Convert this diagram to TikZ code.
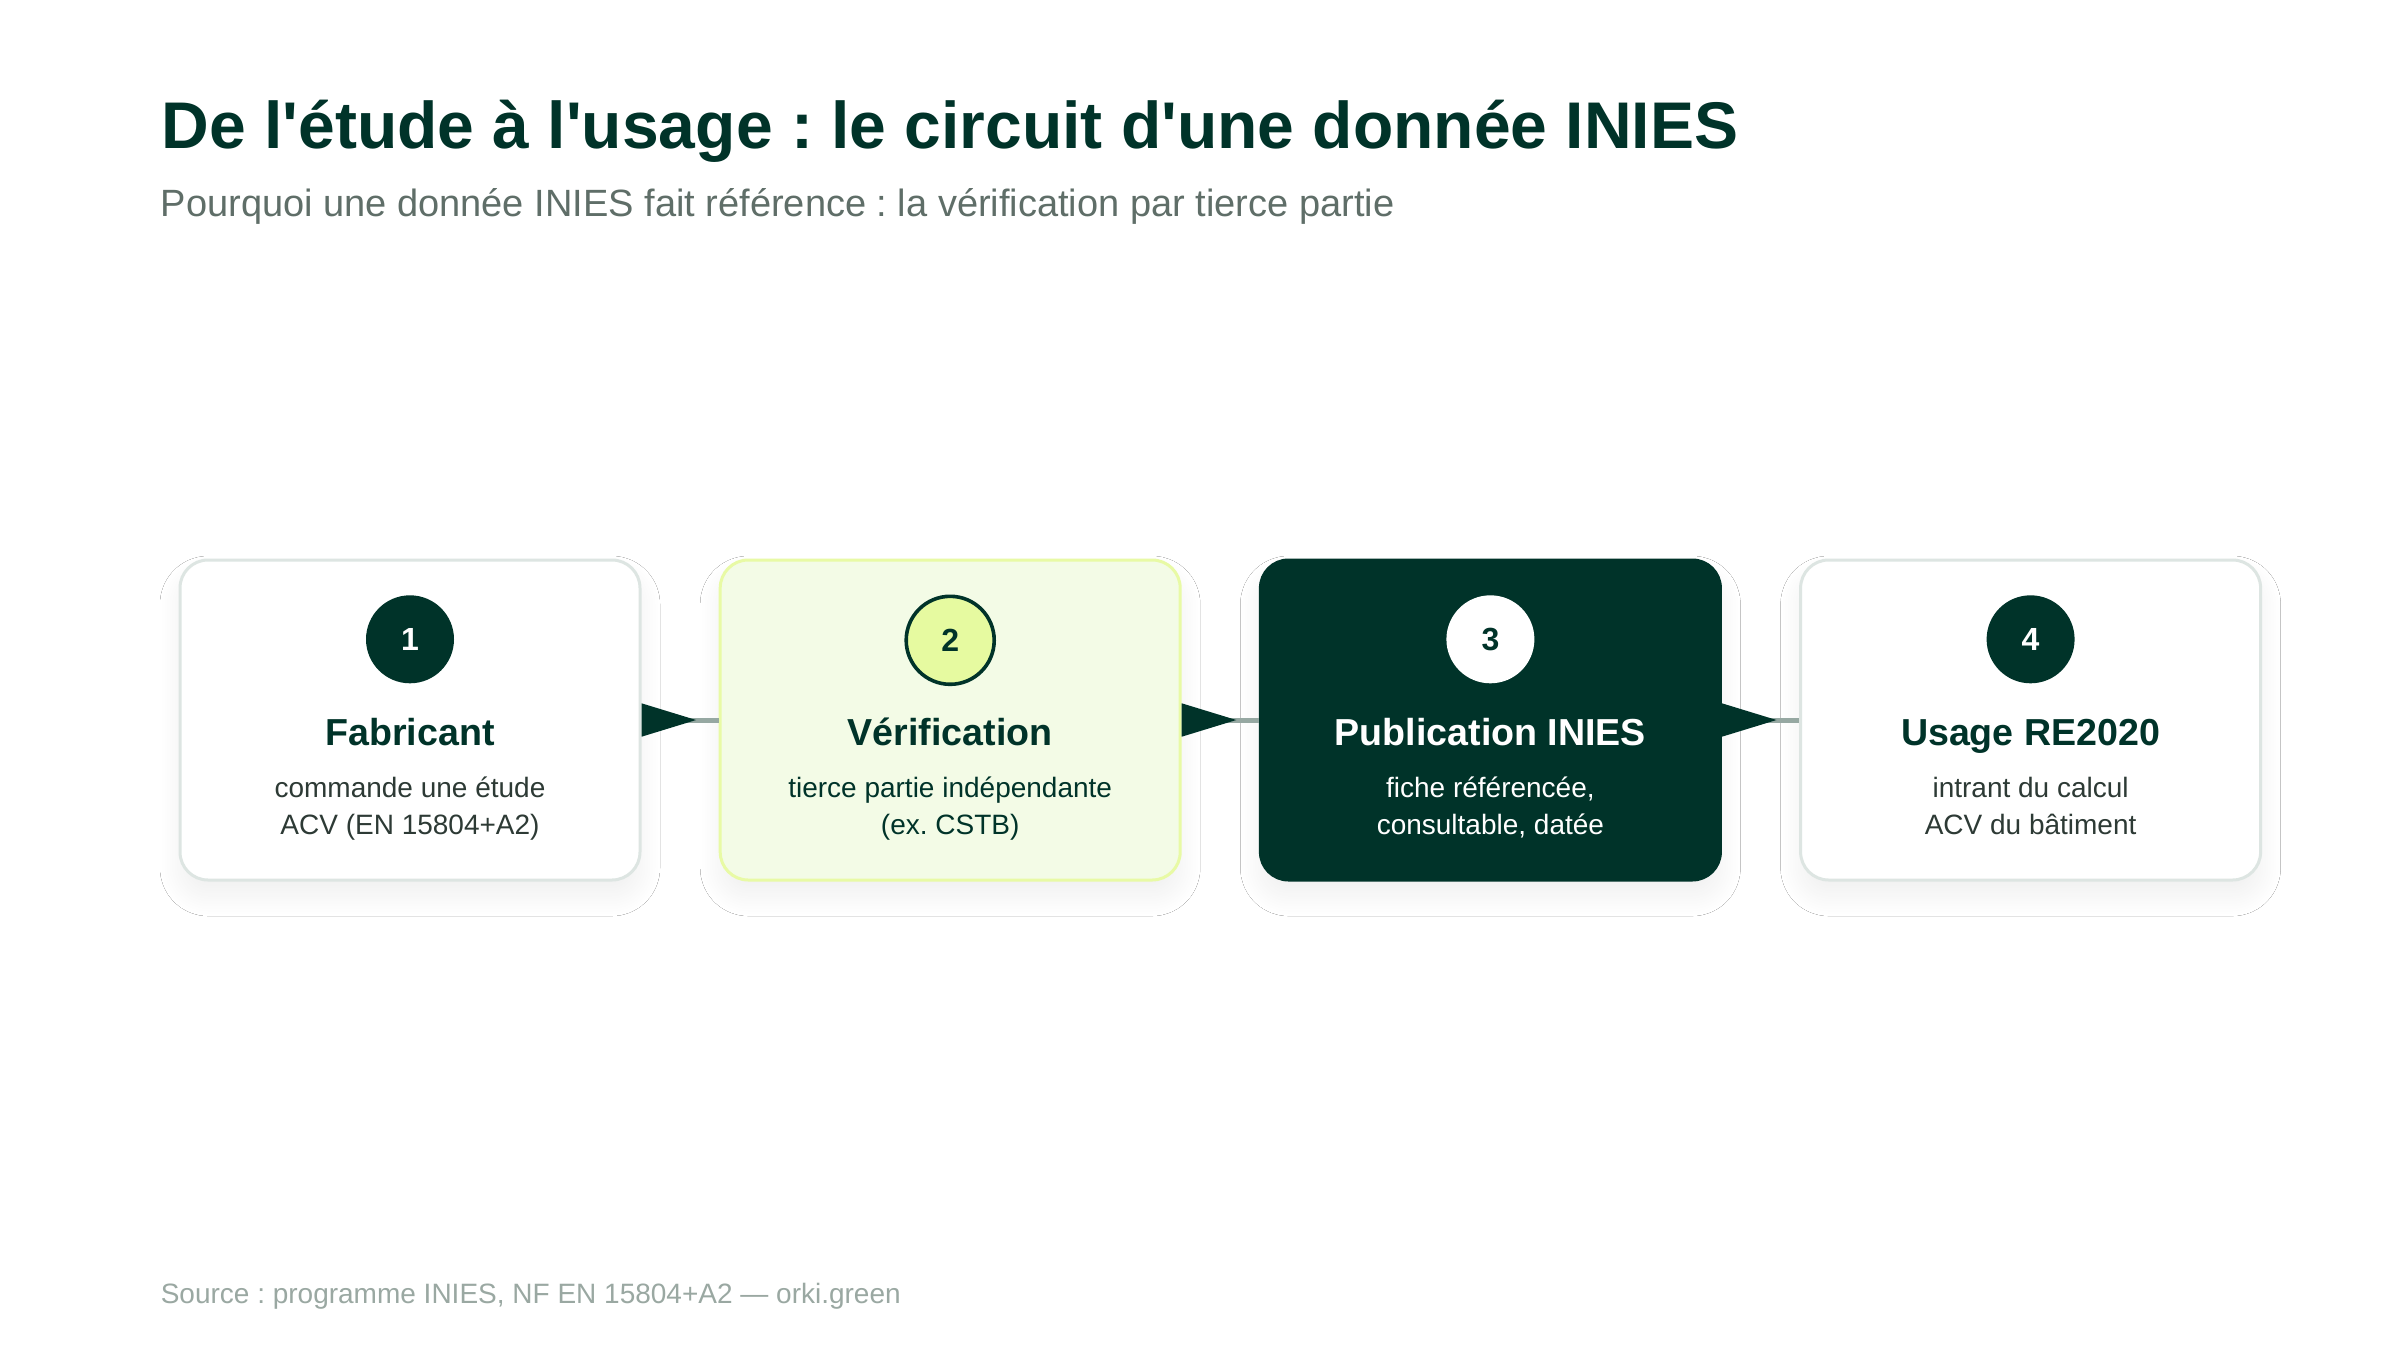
\documentclass[tikz,border=0pt]{standalone}
\usepackage{fontspec}
\setmainfont{Liberation Sans}
\usetikzlibrary{positioning,arrows.meta,shadows.blur}
\definecolor{ink}{RGB}{0,51,41}
\definecolor{subgray}{RGB}{95,110,104}
\definecolor{footgray}{RGB}{154,168,162}
\definecolor{edge}{RGB}{221,229,226}
\definecolor{lime}{RGB}{230,250,160}
\definecolor{limebg}{RGB}{243,251,230}
\definecolor{limeedge}{RGB}{232,250,165}
\definecolor{txt}{RGB}{45,58,53}
\definecolor{wire}{RGB}{150,168,162}
\newcommand{\ap}{\textquotesingle}
\frenchspacing

\begin{document}
\begin{tikzpicture}[x=0.25pt, y=-0.25pt, node distance={19.3pt},
    card/.style = {draw=edge, line width=0.75pt, fill=white, rounded corners=7pt,
      minimum width=115pt, minimum height=80pt, inner sep=0pt,
      blur shadow={shadow xshift=0pt, shadow yshift=-4pt, shadow blur radius=5pt,
        shadow blur extra rounding=5pt, shadow opacity=6, shadow blur steps=24}},
    num/.style = {circle, fill=ink, text=white, minimum size=22pt, inner sep=0pt,
      font=\fontsize{8}{8}\selectfont\bfseries},
    head/.style = {anchor=base, inner sep=0pt, text=ink, font=\fontsize{9.4}{11}\selectfont\bfseries},
    desc/.style = {anchor=base, inner sep=0pt, align=center, text=txt,
      font=\fontsize{7}{9.25}\selectfont},
    link/.style = {draw=wire, line width=1.25pt,
      arrows={Triangle[reversed, length=13.75pt, width=8pt, color=ink]-}}]
  \fill[white] (0,0) rectangle (2400,1350);
  \useasboundingbox (0,0) rectangle (2400,1350);

  % titre
  \node[anchor=base west, inner sep=0pt, text=ink, font=\fontsize{16.5}{20}\selectfont\bfseries]
    (title) at (161,148) {De l\ap étude à l\ap usage : le circuit d\ap une donnée INIES};
  \node[anchor=base west, inner sep=0pt, text=subgray, font=\fontsize{9.5}{11}\selectfont]
    (sub) at (160,216) {Pourquoi une donnée INIES fait référence : la vérification par tierce partie};

  % etapes
  \node[card] (b1) at (410,720) {};
  \node[card, fill=limebg, draw=limeedge] (b2) [right=of b1] {};
  \node[card, fill=ink, draw=ink] (b3) [right=of b2] {};
  \node[card] (b4) [right=of b3] {};

  \node[num] (n1) [below=9pt of b1.north] {1};
  \node[num, fill=lime, draw=ink, line width=0.9pt, text=ink] (n2) [below=9pt of b2.north] {2};
  \node[num, fill=white, text=ink] (n3) [below=9pt of b3.north] {3};
  \node[num] (n4) [below=9pt of b4.north] {4};

  \node[head] (t1) at ([yshift=-46.75pt]b1.north) {Fabricant};
  \node[head] (t2) at ([yshift=-46.75pt]b2.north) {Vérification};
  \node[head, text=white] (t3) at ([yshift=-46.75pt]b3.north) {Publication INIES};
  \node[head] (t4) at ([yshift=-46.75pt]b4.north) {Usage RE2020};

  \node[desc] (d1) at ([yshift=-69pt]b1.north) {commande une étude\\ACV (EN 15804+A2)};
  \node[desc, text=ink] (d2) at ([yshift=-69pt]b2.north) {tierce partie indépendante\\(ex. CSTB)};
  \node[desc, text=white] (d3) at ([yshift=-69pt]b3.north) {fiche référencée,\\consultable, datée};
  \node[desc] (d4) at ([yshift=-69pt]b4.north) {intrant du calcul\\ACV du bâtiment};

  \draw[link] (b1.east) -- (b2.west);
  \draw[link] (b2.east) -- (b3.west);
  \draw[link] (b3.east) -- (b4.west);

  % source
  \node[anchor=base west, inner sep=0pt, text=footgray, font=\fontsize{7}{8}\selectfont]
    (src) at (160,1303) {Source : programme INIES, NF EN 15804+A2 — orki.green};
\end{tikzpicture}
\end{document}
